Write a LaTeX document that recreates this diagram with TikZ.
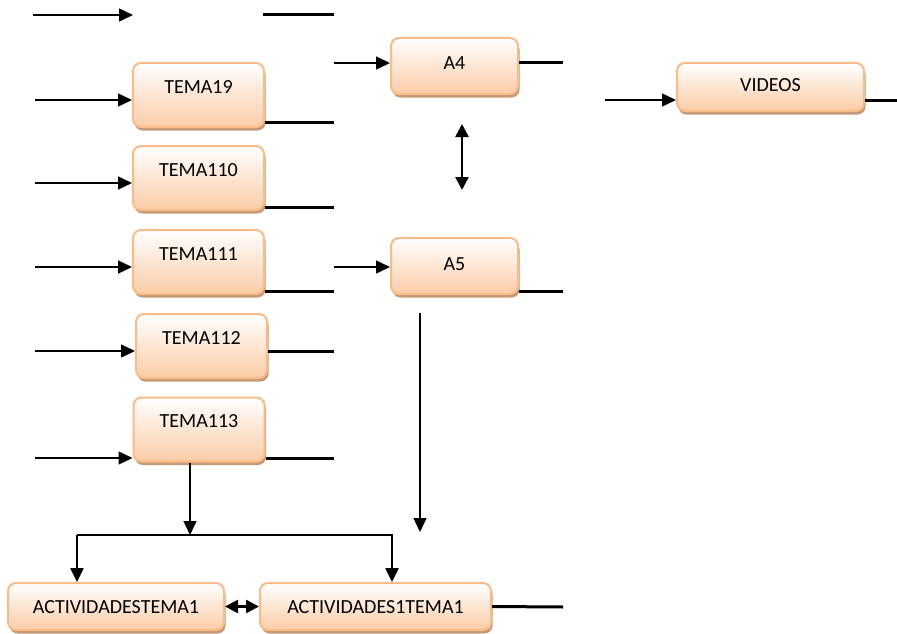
\documentclass[tikz,border=0pt]{standalone}
\usepackage{fontspec}
\setmainfont{Carlito}
\usetikzlibrary{arrows.meta,shadows,positioning}
\definecolor{boxline}{RGB}{249,188,136}
\definecolor{boxfill}{RGB}{251,204,166}
\definecolor{boxshadow}{RGB}{190,142,102}
\tikzstyle{arrow} = [line width=1.5pt,-{Triangle[length=14pt,width=13pt]}]
\tikzstyle{dblarrow} = [line width=2.5pt,{Triangle[length=13pt,width=13pt]}-{Triangle[length=13pt,width=13pt]}]
\tikzstyle{stub} = [line width=3pt]
\tikzstyle{topicbox} = [rounded corners=8pt, draw=boxline, line width=2pt,
  top color=white, bottom color=boxfill, inner sep=0pt,
  drop shadow={shadow xshift=1.5pt, shadow yshift=-3.5pt, fill=boxshadow, opacity=0.9},
  font=\fontsize{20}{24}\selectfont]

\begin{document}
\begin{tikzpicture}[x=1pt,y=-1pt]
\useasboundingbox (0,0) rectangle (897,634);

% Topic column
\foreach \n/\x/\y in {19/198.5/95, 110/198.5/178, 111/198.5/262, 112/201.5/346, 113/199/429.5} {
    \node[topicbox, minimum width=131pt, text height=30pt, text depth=34pt] (t\n) at (\x,\y) {TEMA\n};
}
% Inputs and outputs of each topic
\foreach \n/\yin/\yout in {19/100/122, 110/183/207, 111/267/291, 112/351/351, 113/458/458} {
    \coordinate (in\n) at (35,\yin);
    \coordinate (out\n) at (334,\yout);
    \draw[arrow] (in\n) -- (in\n -| t\n.west);
    \draw[stub] (out\n -| t\n.east) -- (out\n);
}

% Loose arrow and line on top
\coordinate (s1) at (33,15);
\coordinate (s2) at (133,15);
\coordinate (s3) at (263,15);
\coordinate (s4) at (334,15);
\draw[arrow] (s1) -- (s2);
\draw[stub] (s3) -- (s4);

% Middle column
\node[topicbox, minimum width=127pt, text height=32pt, text depth=24pt] (a4) at (454.5,66) {A4};
\node[topicbox, minimum width=127pt, text height=32pt, text depth=24pt] (a5) at (454.5,266) {A5};
\coordinate (a4in) at (334,63);
\coordinate (a4out) at (563,63);
\coordinate (a5in) at (334,267);
\coordinate (a5out) at (563,291);
\draw[arrow] (a4in) -- (a4in -| a4.west);
\draw[stub] (a4out -| a4.east) -- (a4out);
\draw[arrow] (a5in) -- (a5in -| a5.west);
\draw[stub] (a5out -| a5.east) -- (a5out);
\coordinate (up) at (462,124);
\coordinate (dn) at (462,190);
\draw[dblarrow] (up) -- (dn);
\coordinate (d1) at (420,313);
\coordinate (d2) at (420,532);
\draw[arrow] (d1) -- (d2);

% Videos
\node[topicbox, minimum width=187pt, text height=29pt, text depth=19pt] (vid) at (770.5,87) {VIDEOS};
\coordinate (vin) at (605,100);
\coordinate (vout) at (897,100);
\draw[arrow] (vin) -- (vin -| vid.west);
\draw[stub] (vout -| vid.east) -- (vout);

% Activities
\node[topicbox, minimum width=216pt, text height=30pt, text depth=17pt] (act1) at (116,606.5) {ACTIVIDADESTEMA1};
\node[topicbox, minimum width=231pt, text height=30pt, text depth=17pt] (act2) at (375.5,606.5) {ACTIVIDADES1TEMA1};
\draw[dblarrow] (act1) -- (act2);
\coordinate (actout) at (563,607);
\draw[stub] (act2.east) -- (actout);

% Split from the last topic
\coordinate (split) at (190,535);
\coordinate (bl) at (77,535);
\coordinate (br) at (392,535);
\draw[arrow] (t113.south -| split) -- (split);
\draw[line width=2.5pt, -{Triangle[length=14pt,width=13pt]}] (bl) -- (br) -- (br |- act2.north);
\draw[line width=2.5pt, -{Triangle[length=14pt,width=13pt]}] (bl) -- (bl |- act1.north);
\end{tikzpicture}
\end{document}
